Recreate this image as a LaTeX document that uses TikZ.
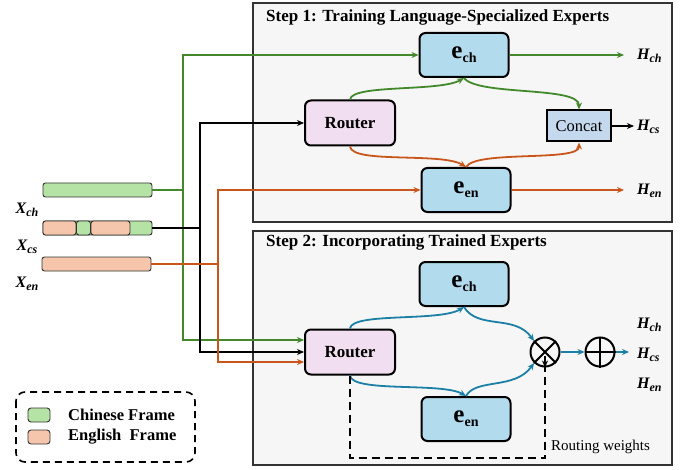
\documentclass[tikz,border=0pt]{standalone}
\usepackage{fontspec}
\setmainfont{Liberation Serif}
\usetikzlibrary{arrows.meta,positioning}
\definecolor{cgreen}{HTML}{43892C}
\definecolor{corange}{HTML}{C8561B}
\definecolor{cblue}{HTML}{1B7FA6}
\definecolor{expfill}{HTML}{B2DCEE}
\definecolor{routfill}{HTML}{F1DFF1}
\definecolor{catfill}{HTML}{C4D8EE}
\definecolor{panelfill}{HTML}{F6F6F6}
\definecolor{panelline}{HTML}{333333}
\definecolor{gbar}{HTML}{B5E3A5}
\definecolor{obar}{HTML}{F5C6AB}
\newcommand{\expt}[1]{{\fontsize{25}{25}\selectfont\bfseries e}\raisebox{-4pt}{\fontsize{14}{14}\selectfont\bfseries #1}}
\newcommand{\hlab}[2]{{\fontsize{16}{16}\selectfont\bfseries\itshape #1}\raisebox{-3.5pt}{\fontsize{12}{12}\selectfont\bfseries\itshape #2}}
\tikzset{
  panel/.style={draw=panelline, line width=1.3pt, fill=panelfill},
  expert/.style={draw=black, line width=2pt, rounded corners=6pt, fill=expfill, minimum width=89pt, minimum height=44pt, inner sep=0pt},
  router/.style={draw=black, line width=2pt, rounded corners=6pt, fill=routfill, minimum width=90pt, minimum height=45pt, inner sep=0pt, font=\fontsize{17}{17}\selectfont\bfseries},
  concat/.style={draw=black, line width=2pt, fill=catfill, minimum width=64pt, minimum height=31pt, inner sep=0pt, font=\fontsize{16.5}{16.5}\selectfont},
  wire/.style={line width=1.8pt},
  arr/.style={-{Stealth[length=7pt,width=6pt]}},
  bar/.style={draw=black!80, line width=0.9pt, rounded corners=2.5pt, minimum height=14pt, inner sep=0pt},
  opcirc/.style={circle, draw=black, line width=2pt, minimum size=29pt, inner sep=0pt},
  dashline/.style={line width=1.8pt, dash pattern=on 8pt off 5pt},
  hlabel/.style={inner sep=0pt, anchor=west},
  title/.style={anchor=west, inner sep=0pt, font=\fontsize{17}{17}\selectfont\bfseries}
}
\begin{document}
\begin{tikzpicture}[x=1pt,y=-1pt]
\useasboundingbox (0,0) rectangle (692,470);
% panels
\draw[panel] (253,3) rectangle (672,222);
\draw[panel] (253,231) rectangle (672,465);
\node[title] (t1) at (266,17) {Step 1: Training Language-Specialized Experts};
\node[title] (t2) at (266,242) {Step 2: Incorporating Trained Experts};

% step 1 nodes
\node[expert] (ech1) at (464,55) {\expt{ch}};
\node[expert] (een1) at (466,190) {\expt{en}};
\node[router] (r1) at (350,123) {Router};
\node[concat] (cat) at (579,126) {Concat};
\node[hlabel] (hch1) at (637,56) {\hlab{H}{ch}};
\node[hlabel] (hcs1) at (637,127) {\hlab{H}{cs}};
\node[hlabel] (hen1) at (637,191) {\hlab{H}{en}};

% step 2 nodes
\node[expert] (ech2) at (464,284) {\expt{ch}};
\node[expert] (een2) at (466,419) {\expt{en}};
\node[router] (r2) at (350,352) {Router};
\node[opcirc] (otimes) at (545,352) {};
\node[opcirc] (oplus) at (600,352) {};
\draw[line width=2pt] (otimes.north west) -- (otimes.south east) (otimes.north east) -- (otimes.south west);
\draw[line width=2pt] (oplus.north) -- (oplus.south) (oplus.west) -- (oplus.east);
\node[hlabel] (hch2) at (637,325) {\hlab{H}{ch}};
\node[hlabel] (hcs2) at (637,355) {\hlab{H}{cs}};
\node[hlabel] (hen2) at (637,385) {\hlab{H}{en}};
\node[anchor=west, inner sep=0pt, font=\fontsize{15}{15}\selectfont] (rw) at (551,447) {Routing weights};

% inputs
\node[bar, fill=gbar, minimum width=109pt] (xch) at (97.5,190) {};
\node[bar, fill=gbar, minimum width=109pt] (xcs) at (97.5,228) {};
\node[bar, fill=obar, minimum width=33pt] (xcs1) at (59.5,228) {};
\node[bar, fill=gbar, minimum width=14pt] (xcs2) at (83.5,228) {};
\node[bar, fill=obar, minimum width=39pt] (xcs3) at (110.5,228) {};
\node[bar, fill=obar, minimum width=109pt] (xen) at (96.5,264) {};
\node[inner sep=0pt] (lch) at (27,210) {\hlab{X}{ch}};
\node[inner sep=0pt] (lcs) at (27,247) {\hlab{X}{cs}};
\node[inner sep=0pt] (len) at (27,284) {\hlab{X}{en}};

% wiring
\coordinate (gA) at (183,190);
\coordinate (kA) at (200,228);
\coordinate (oA) at (218,264);
\draw[wire, cgreen] (xch.east) -- (gA);
\draw[wire, cgreen, arr] (gA) -- (183,55) -- (ech1.west);
\draw[wire, cgreen, arr] (gA) -- (183,340) -- (r2.west |- 0,340);
\draw[wire, black] (xcs.east) -- (kA);
\draw[wire, black, arr] (kA) -- (200,123) -- (r1.west);
\draw[wire, black, arr] (kA) -- (200,352) -- (r2.west);
\draw[wire, corange] (xen.east) -- (oA);
\draw[wire, corange, arr] (oA) -- (218,190) -- (een1.west);
\draw[wire, corange, arr] (oA) -- (218,362) -- (r2.west |- 0,362);

% step 1 flows
\draw[wire, cgreen, arr] (ech1.east) -- (624,55);
\draw[wire, corange, arr] (een1.east) -- (624,190);
\draw[wire, black, arr] (cat.east) -- (634,126);
\draw[wire, cgreen, arr] (r1.north) .. controls (352,84) and (440,92) .. (ech1.south);
\draw[wire, cgreen, arr] (ech1.south) .. controls (478,96) and (579,86) .. (cat.north);
\draw[wire, corange, arr] (r1.south) .. controls (352,164) and (442,152) .. (een1.north);
\draw[wire, corange, arr] (een1.north) .. controls (476,150) and (579,162) .. (cat.south);

% step 2 flows
\draw[wire, cblue, arr] (r2.north) .. controls (352,312) and (440,322) .. (ech2.south);
\draw[wire, cblue, arr] (ech2.south) .. controls (478,330) and (515,314) .. (otimes.north west);
\draw[wire, cblue, arr] (r2.south) .. controls (352,393) and (442,382) .. (een2.north);
\draw[wire, cblue, arr] (een2.north) .. controls (476,378) and (515,390) .. (otimes.south west);
\draw[wire, cblue, arr] (otimes.east) -- (oplus.west);
\draw[wire, cblue, arr] (oplus.east) -- (629,352);
\coordinate (d1) at (350,458);
\coordinate (d2) at (545,458);
\draw[dashline] (r2.south) -- (d1) -- (d2) -- ([yshift=10pt]otimes.south);
\draw[line width=1.8pt, arr] ([yshift=12pt]otimes.south) -- (otimes.south);

% legend
\draw[dashline, line width=1.6pt, dash pattern=on 7pt off 5pt, rounded corners=9pt] (16,392) rectangle (195,462);
\node[bar, fill=gbar, minimum width=22pt, minimum height=14pt, rounded corners=3pt] (lg) at (39,415) {};
\node[bar, fill=obar, minimum width=22pt, minimum height=14pt, rounded corners=3pt] (lo) at (39,437) {};
\node[anchor=west, inner sep=0pt, font=\fontsize{16.5}{16.5}\selectfont\bfseries] (lgt) at (68,415) {Chinese Frame};
\node[anchor=west, inner sep=0pt, font=\fontsize{16.5}{16.5}\selectfont\bfseries] (lot) at (68,437) {English~ Frame};
\end{tikzpicture}
\end{document}
